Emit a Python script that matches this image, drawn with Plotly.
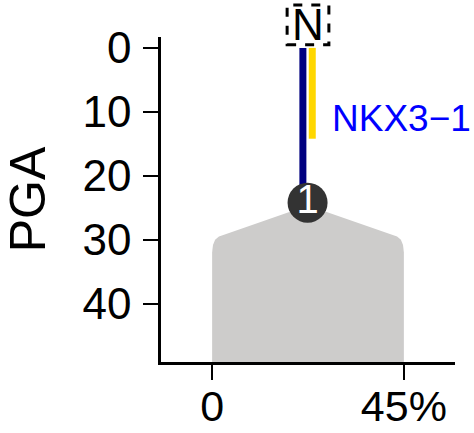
import plotly.graph_objects as go

# ---- data ----
x_ticks = [0, 45]
x_ticklabels = ["0", "45%"]
y_ticks = [0, 10, 20, 30, 40]

# grey distribution outline (x in %, y in PGA)
shape_x = [0, 0, 0.2, 0.7, 1.6, 2.8, 18.3, 22.5, 26.7, 42.2, 43.4, 44.3, 44.8, 45, 45]
shape_y = [50, 32.0, 30.8, 30.0, 29.5, 29.2, 25.6, 24.8, 25.6, 29.2, 29.5, 30.0, 30.8, 32.0, 50]

# segments
navy_x = [21.3, 21.3]
navy_y = [0, 23]
gold_x = [23.5, 23.5]
gold_y = [0, 14.2]

node_x = [22.4]
node_y = [24.2]
node_label = ["1"]

gene_label = "NKX3−1"
gene_x = 27.6
gene_y = 11.0

top_label = "N"
top_x = 22.5
top_y = -3.6

XR = [-12, 57]
YR = [49.1, -1.7]

FONT = "Liberation Sans, Arial, sans-serif"

fig = go.Figure()
fig.add_trace(go.Scatter(x=shape_x, y=shape_y, fill="toself", mode="lines",
                         line=dict(width=0, color="#cdcccb"), fillcolor="#cdcccb",
                         hoverinfo="skip", showlegend=False))
fig.add_trace(go.Scatter(x=navy_x, y=navy_y, mode="lines",
                         line=dict(width=7, color="#000080"), showlegend=False))
fig.add_trace(go.Scatter(x=gold_x, y=gold_y, mode="lines",
                         line=dict(width=7, color="#FFD700"), showlegend=False))
fig.add_trace(go.Scatter(x=node_x, y=node_y, mode="markers+text", text=node_label,
                         textposition="middle center",
                         textfont=dict(color="white", size=40, family=FONT),
                         marker=dict(size=40, color="#333333", line=dict(width=0)),
                         cliponaxis=False, showlegend=False))

fig.add_annotation(x=gene_x, y=gene_y, text=gene_label, showarrow=False,
                   xanchor="left", yanchor="middle",
                   font=dict(color="#0000FF", size=37, family=FONT))

def px(v):
    return (v - XR[0]) / (XR[1] - XR[0])

def py(v):
    return (v - YR[0]) / (YR[1] - YR[0])

fig.add_annotation(x=px(top_x), y=py(top_y), xref="paper", yref="paper",
                   text=top_label, showarrow=False,
                   xanchor="center", yanchor="middle",
                   font=dict(color="black", size=44, family=FONT))

fig.add_shape(type="rect", xref="paper", yref="paper",
              x0=px(top_x - 4.9), x1=px(top_x + 4.9),
              y0=py(top_y + 3.1), y1=py(top_y - 3.1),
              line=dict(color="black", width=3, dash="dash"))

fig.update_layout(
    width=474, height=433,
    margin=dict(l=161, r=19, t=37, b=71),
    plot_bgcolor="white", paper_bgcolor="white",
    font=dict(family=FONT, color="black"),
    showlegend=False,
    xaxis=dict(range=XR, tickvals=x_ticks, ticktext=x_ticklabels, automargin=False,
               showgrid=False, zeroline=False, showline=True, linecolor="black",
               linewidth=2.5, ticks="outside", ticklen=15, tickwidth=2,
               tickcolor="black", tickfont=dict(size=43, family=FONT),
               ticklabelstandoff=-10),
    yaxis=dict(range=YR, tickvals=y_ticks, showgrid=False, zeroline=False,
               automargin=False,
               showline=True, linecolor="black", linewidth=2.5,
               ticks="outside", ticklen=15, tickwidth=2, tickcolor="black",
               tickfont=dict(size=44, family=FONT), ticklabelstandoff=3,
               title=dict(text="PGA", font=dict(size=50, family=FONT), standoff=24)),
)

fig.write_html("out.html", config={"displayModeBar": False},
               post_script="document.body.style.margin='0';")
